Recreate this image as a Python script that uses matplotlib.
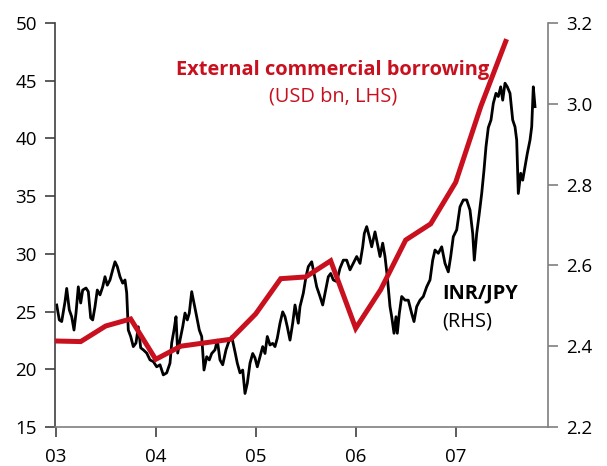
import matplotlib
matplotlib.use("Agg")
import matplotlib.pyplot as plt

plt.rcParams['font.family'] = ['Open Sans', 'DejaVu Sans']

# External commercial borrowing (USD bn, LHS), quarterly
ecb_t = [2003.0, 2003.25, 2003.5, 2003.75, 2004.0, 2004.25, 2004.5, 2004.75,
         2005.0, 2005.25, 2005.5, 2005.75, 2006.0, 2006.25, 2006.5, 2006.75,
         2007.0, 2007.25, 2007.5]
ecb_v = [22.45, 22.4, 23.75, 24.36, 20.86, 22.0, 22.3, 22.6,
         24.8, 27.85, 28.0, 29.4, 23.55, 26.9, 31.2, 32.6,
         36.2, 42.75, 48.4]

# INR/JPY (RHS)
fx_t = [2003.01, 2003.036, 2003.06, 2003.093, 2003.11, 2003.136, 2003.16, 2003.183, 2003.203, 2003.226,
        2003.25, 2003.27, 2003.303, 2003.326, 2003.35, 2003.37, 2003.393, 2003.416, 2003.443, 2003.47,
        2003.493, 2003.516, 2003.543, 2003.57, 2003.593, 2003.616, 2003.643, 2003.67, 2003.693, 2003.71,
        2003.726, 2003.75, 2003.776, 2003.803, 2003.826, 2003.85, 2003.876, 2003.91, 2003.943, 2003.976,
        2004.01, 2004.043, 2004.076, 2004.11, 2004.143, 2004.16, 2004.183, 2004.203, 2004.22, 2004.243,
        2004.27, 2004.293, 2004.316, 2004.336, 2004.36, 2004.383, 2004.41, 2004.436, 2004.46, 2004.483,
        2004.51, 2004.536, 2004.56, 2004.593, 2004.616, 2004.643, 2004.67, 2004.703, 2004.736, 2004.76,
        2004.793, 2004.816, 2004.843, 2004.87, 2004.893, 2004.916, 2004.943, 2004.97, 2004.993, 2005.016,
        2005.043, 2005.07, 2005.093, 2005.116, 2005.143, 2005.17, 2005.193, 2005.216, 2005.243, 2005.27,
        2005.293, 2005.316, 2005.343, 2005.37, 2005.393, 2005.426, 2005.443, 2005.476, 2005.503, 2005.526,
        2005.56, 2005.583, 2005.61, 2005.643, 2005.67, 2005.693, 2005.726, 2005.75, 2005.776, 2005.81,
        2005.843, 2005.876, 2005.91, 2005.943, 2005.976, 2006.01, 2006.043, 2006.07, 2006.086, 2006.11,
        2006.136, 2006.16, 2006.193, 2006.216, 2006.243, 2006.27, 2006.293, 2006.316, 2006.343, 2006.36,
        2006.383, 2006.403, 2006.416, 2006.436, 2006.46, 2006.493, 2006.526, 2006.56, 2006.583, 2006.61,
        2006.643, 2006.676, 2006.71, 2006.743, 2006.77, 2006.793, 2006.826, 2006.86, 2006.893, 2006.926,
        2006.95, 2006.976, 2007.01, 2007.043, 2007.076, 2007.11, 2007.143, 2007.17, 2007.186, 2007.21,
        2007.236, 2007.26, 2007.283, 2007.303, 2007.326, 2007.353, 2007.376, 2007.403, 2007.426, 2007.45,
        2007.47, 2007.493, 2007.516, 2007.543, 2007.57, 2007.593, 2007.61, 2007.626, 2007.65, 2007.67,
        2007.693, 2007.716, 2007.743, 2007.76, 2007.776, 2007.793]
fx_v = [2.502, 2.465, 2.461, 2.510, 2.543, 2.490, 2.473, 2.440, 2.482, 2.547,
        2.507, 2.539, 2.544, 2.535, 2.470, 2.465, 2.498, 2.539, 2.527, 2.547,
        2.572, 2.551, 2.564, 2.589, 2.609, 2.597, 2.572, 2.556, 2.564, 2.532,
        2.440, 2.424, 2.399, 2.408, 2.448, 2.396, 2.391, 2.383, 2.366, 2.362,
        2.349, 2.354, 2.329, 2.334, 2.358, 2.408, 2.440, 2.473, 2.383, 2.415,
        2.448, 2.482, 2.465, 2.482, 2.535, 2.507, 2.473, 2.440, 2.424, 2.341,
        2.374, 2.366, 2.382, 2.391, 2.415, 2.366, 2.354, 2.391, 2.415, 2.424,
        2.386, 2.358, 2.334, 2.341, 2.283, 2.308, 2.358, 2.382, 2.371, 2.349,
        2.374, 2.399, 2.382, 2.424, 2.403, 2.407, 2.399, 2.420, 2.457, 2.485,
        2.473, 2.448, 2.415, 2.457, 2.502, 2.457, 2.498, 2.531, 2.572, 2.597,
        2.609, 2.580, 2.547, 2.523, 2.502, 2.531, 2.572, 2.580, 2.564, 2.560,
        2.593, 2.613, 2.613, 2.589, 2.605, 2.622, 2.605, 2.646, 2.679, 2.696,
        2.671, 2.646, 2.683, 2.655, 2.622, 2.655, 2.622, 2.572, 2.498, 2.473,
        2.432, 2.473, 2.432, 2.481, 2.523, 2.514, 2.514, 2.481, 2.461, 2.498,
        2.514, 2.523, 2.547, 2.564, 2.613, 2.638, 2.630, 2.646, 2.605, 2.584,
        2.622, 2.671, 2.688, 2.745, 2.762, 2.762, 2.737, 2.679, 2.613, 2.679,
        2.729, 2.778, 2.836, 2.894, 2.941, 2.960, 3.001, 3.026, 3.018, 3.042,
        3.009, 3.051, 3.042, 3.026, 2.960, 2.943, 2.910, 2.778, 2.828, 2.811,
        2.844, 2.877, 2.910, 2.943, 3.042, 2.993]

xtick_pos = [2003, 2004, 2005, 2006, 2007]
xtick_lab = ['03', '04', '05', '06', '07']
left_ticks = [15, 20, 25, 30, 35, 40, 45, 50]
right_ticks = [2.2, 2.4, 2.6, 2.8, 3.0, 3.2]

RED = '#c8101e'

fig = plt.figure(figsize=(6.07, 4.66), dpi=100)
ax = fig.add_axes([55/607, 1-427/466, (548-55)/607, (427-23)/466])
ax2 = ax.twinx()

ax.plot(ecb_t, ecb_v, color=RED, lw=3.6, solid_joinstyle='miter', zorder=3)
ax2.plot(fx_t, fx_v, color='black', lw=2.0, zorder=2)
ax.set_zorder(ax2.get_zorder() + 1)
ax.patch.set_visible(False)

ax.set_xlim(2002.993, 2007.923)
ax.set_ylim(15, 50)
ax2.set_ylim(2.2, 3.2)

ax.set_xticks(xtick_pos)
ax.set_xticklabels(xtick_lab)
ax.set_yticks(left_ticks)
ax.set_yticklabels([str(v) for v in left_ticks])
ax2.set_yticks(right_ticks)
ax2.set_yticklabels([f'{v:.1f}' for v in right_ticks])

for a in (ax, ax2):
    a.spines['top'].set_visible(False)
ax.spines['right'].set_visible(False)
ax2.spines['left'].set_visible(False)
ax2.spines['bottom'].set_visible(False)
ax.spines['left'].set_color('#404040')
ax.spines['bottom'].set_color('#7f7f7f')
ax2.spines['right'].set_color('#7f7f7f')
for s in ('left', 'bottom'):
    ax.spines[s].set_linewidth(1.2)
ax2.spines['right'].set_linewidth(1.2)

ax.tick_params(axis='y', direction='out', length=7, width=1.2, color='#404040',
               labelsize=13.5, pad=6)
ax.tick_params(axis='x', direction='out', length=7, width=1.2, color='#404040',
               labelsize=13.5, pad=8)
ax2.tick_params(axis='y', direction='out', length=7, width=1.2, color='#7f7f7f',
                labelsize=13.5, pad=6)

ax.text(2005.77, 45.9, 'External commercial borrowing', color=RED, fontsize=14.4,
        fontweight='bold', ha='center', va='center')
ax.text(2005.77, 43.6, '(USD bn, LHS)', color=RED, fontsize=14.4,
        ha='center', va='center')
ax.text(2006.87, 26.6, 'INR/JPY', color='black', fontsize=14.4,
        fontweight='bold', ha='left', va='center')
ax.text(2006.87, 24.1, '(RHS)', color='black', fontsize=14.4,
        ha='left', va='center')

fig.savefig('out.png', dpi=100)
